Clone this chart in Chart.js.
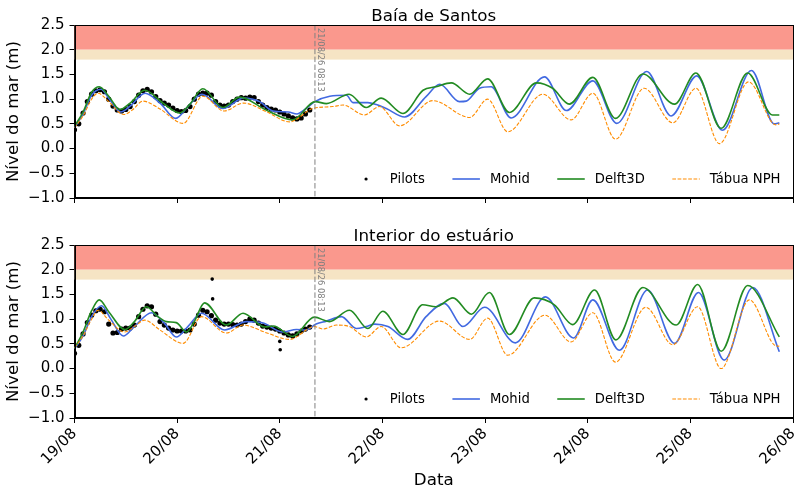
<!DOCTYPE html>
<html><head><meta charset="utf-8">
<script src="https://cdn.jsdelivr.net/npm/chart.js@4.4.0/dist/chart.umd.min.js"></script>
<style>
html,body{margin:0;padding:0;background:#fff;}
#wrap{position:relative;width:800px;height:498px;overflow:hidden;background:#fff;}
canvas{position:absolute;left:0;}
</style></head><body>
<div id="wrap">
<canvas id="c1" width="800" height="210" style="top:0px"></canvas>
<canvas id="c2" width="800" height="278" style="top:220px"></canvas>
</div>
<script>
// ---------- DATA ----------
const xTickLabels = ['19/08','20/08','21/08','22/08','23/08','24/08','25/08','26/08'];
const panelTitles = ['Baía de Santos', 'Interior do estuário'];
const seriesNames = ['Pilots', 'Mohid', 'Delft3D', 'Tábua NPH'];
const cutoffHour = 56.22;            // 21/08 08:13
const cutoffLabel = '21/08/26 08:13';
const alertBand = [2.0, 2.5];
const warnBand = [1.8, 2.0];

// Baía de Santos (hours since 19/08 00:00, sea level in m)
const santosPilotHours = [0,1,2,3,4,5,6,7,8,9,10,11,12,13,14,15,16,17,18,19,20,21,22,23,24,25,26,27,28,29,30,31,32,33,34,35,36,37,38,39,40,41,42,43,44,45,46,47,48,49,50,51,52,53,54,55];
const santosPilotLevel = [0.38,0.50,0.72,0.95,1.10,1.17,1.19,1.15,1.00,0.86,0.78,0.76,0.79,0.85,0.95,1.08,1.17,1.20,1.15,1.05,0.97,0.92,0.88,0.82,0.77,0.75,0.77,0.85,1.00,1.10,1.12,1.12,1.08,0.95,0.88,0.86,0.88,0.95,1.00,1.03,1.02,1.04,1.03,0.95,0.88,0.83,0.80,0.78,0.74,0.70,0.66,0.62,0.60,0.62,0.70,0.78];

const santosMohidHours = [0,2,4,6.2,8,10.8,13,16.5,20,23.7,26.5,29.8,34.7,39.5,43.3,46.4,50,52,54,56.2,59.7,63.6,65.1,68.6,70.6,72.9,77.2,82.2,85.4,90,91.6,94.7,97.4,102.1,109.9,115,121.2,126.8,133.8,139.5,145.5,151.5,158.3,163.6,164.8];
const santosMohidLevel = [0.42,0.70,1.08,1.20,1.02,0.74,0.86,1.12,0.92,0.61,0.85,1.10,0.81,1.02,0.95,0.76,0.74,0.70,0.80,0.95,1.06,1.08,0.93,0.93,0.89,0.81,0.64,1.05,1.30,0.95,0.96,1.22,1.25,0.62,1.45,0.77,1.37,0.51,1.56,0.66,1.47,0.37,1.58,0.50,0.52];

const santosDelftHours = [0,2,4,5.8,8,10.6,13,16.4,20.7,24.6,27,30,34.7,38.6,44.8,51,56.3,58.9,64.2,68.2,71.7,76.8,81.5,84.5,88.1,92.4,96.6,101.7,108,111.8,115.7,121.2,126.5,132.9,140.3,145.3,151.2,157.4,163.2,164.8];
const santosDelftLevel = [0.45,0.74,1.14,1.25,1.06,0.79,0.92,1.18,0.92,0.72,0.90,1.21,0.83,1.04,0.78,0.58,0.95,0.91,1.10,0.83,1.02,0.71,1.18,1.25,1.33,1.10,1.41,0.73,1.33,1.22,0.90,1.44,0.61,1.51,0.90,1.53,0.41,1.53,0.68,0.68];

const santosNphHours = [0,2,4,5.5,8,11.5,13.5,16,20,25.4,30,35,39.5,45,50.3,55.7,60.4,62.8,67.8,71.3,76,83.8,92.4,96.6,101.3,109.5,116.1,121.2,126.5,133.2,139.9,145.3,150.8,157.6,164,164.8];
const santosNphLevel = [0.42,0.66,1.00,1.12,0.95,0.69,0.78,0.96,0.80,0.51,1.06,0.76,0.92,0.74,0.54,0.81,0.85,0.88,0.68,0.85,0.46,0.97,0.63,1.00,0.34,1.10,0.58,1.12,0.19,1.22,0.52,1.22,0.10,1.35,0.48,0.50];

// Interior do estuário
const estuaryPilotHours = [0,1,2,3,4,5,6,7,8,9,10,11,12,13,14,15,16,17,18,19,20,21,22,23,24,25,26,27,28,29,30,31,32,33,34,35,36,37,38,39,40,41,42,43,44,45,46,47,48,49,50,51,52,53,54,55];
const estuaryPilotLevel = [0.31,0.47,0.70,0.93,1.08,1.17,1.20,1.15,0.90,0.72,0.73,0.80,0.82,0.82,0.88,1.05,1.20,1.27,1.25,1.10,0.95,0.88,0.82,0.78,0.76,0.76,0.76,0.78,0.90,1.08,1.18,1.15,1.07,0.98,0.92,0.90,0.90,0.89,0.88,0.90,0.95,1.00,0.98,0.92,0.86,0.84,0.82,0.80,0.76,0.72,0.68,0.66,0.70,0.76,0.80,0.84];
const estuaryOutlierHours = [32.2, 32.3, 48.0, 48.1];
const estuaryOutlierLevel = [1.81, 1.41, 0.55, 0.38];

const estuaryMohidHours = [0,2,4,6.3,8.5,11.4,14,18,21,23.8,26.5,29.7,35.1,40.2,44.1,48.7,51.9,54,56.5,58.9,62.4,65.9,68.2,70.2,73.3,77.9,82.2,86.5,90.8,95.9,103.1,110.1,116.7,121.2,127.4,134,140.3,145.9,151.9,158.6,164.8];
const estuaryMohidLevel = [0.40,0.66,1.05,1.27,1.00,0.66,0.85,1.13,0.92,0.64,0.85,1.12,0.78,0.95,0.92,0.74,0.79,0.78,0.90,0.96,1.05,0.81,0.85,0.90,0.85,0.59,1.05,1.32,0.85,1.24,0.52,1.45,0.62,1.39,0.37,1.59,0.51,1.54,0.17,1.64,0.34];

const estuaryDelftHours = [0,2,4,5.8,8,11.8,14,16.8,19.5,21.5,23.8,26.2,28,30.4,35.5,39.4,44.5,46.5,51,56.1,59.6,64.3,68.6,72.1,76.8,81.4,84.5,88.5,92.8,97,101.7,107.5,112.2,116.5,121.6,126.6,132.9,140.7,145.7,151.2,157.4,164.8];
const estuaryDelftLevel = [0.41,0.74,1.17,1.39,1.15,0.79,0.95,1.25,1.05,0.95,0.93,0.74,0.95,1.33,0.88,1.12,0.84,0.86,0.65,1.04,0.95,1.18,0.81,1.16,0.69,1.29,1.25,1.43,1.10,1.54,0.69,1.43,1.29,0.89,1.59,0.58,1.64,0.88,1.70,0.35,1.68,0.64];

const estuaryNphHours = [0,2,4,5.5,8,11.7,14,16.4,20,25.4,29.7,35.5,39.4,45,50.3,56.1,58.1,61.2,64.3,68.2,71.7,76.4,85.3,92.4,96.6,101.3,110,116.1,121.2,126.5,133.6,139.9,145.7,151.2,157.8,163.6,164.8];
const estuaryNphLevel = [0.42,0.66,1.00,1.18,0.98,0.74,0.85,0.98,0.78,0.51,1.05,0.72,0.88,0.72,0.59,0.85,0.80,0.88,0.85,0.64,0.85,0.42,0.96,0.59,1.02,0.27,1.08,0.54,1.13,0.13,1.24,0.48,1.25,0.00,1.39,0.48,0.45];

// ---------- STYLE / BUILD ----------
const FONT = "'DejaVu Sans', sans-serif";
const seriesColors = ['#000000', '#4169e1', '#228b22', '#ff8c00'];
const zip = (xs, ys) => xs.map((x, i) => ({x: x, y: ys[i]}));

function makeDatasets(p, outliers) {
  const sets = [
    {label: seriesNames[0], data: zip(p[0][0], p[0][1]), showLine: false, pointRadius: 2.6, pointHoverRadius: 0,
     pointBackgroundColor: seriesColors[0], pointBorderWidth: 0, borderColor: seriesColors[0], order: 4},
    {label: seriesNames[1], data: zip(p[1][0], p[1][1]), borderColor: seriesColors[1], borderWidth: 1.6,
     pointRadius: 0, cubicInterpolationMode: 'monotone', fill: false, order: 3},
    {label: seriesNames[2], data: zip(p[2][0], p[2][1]), borderColor: seriesColors[2], borderWidth: 1.6,
     pointRadius: 0, cubicInterpolationMode: 'monotone', fill: false, order: 2},
    {label: seriesNames[3], data: zip(p[3][0], p[3][1]), borderColor: seriesColors[3], borderWidth: 1.1,
     borderDash: [3.7, 1.6], pointRadius: 0, cubicInterpolationMode: 'monotone', fill: false, order: 1}
  ];
  if (outliers) {
    sets.push({label: seriesNames[0], legendSkip: true, data: zip(outliers[0], outliers[1]), showLine: false,
      pointRadius: 1.8, pointHoverRadius: 0, pointBackgroundColor: seriesColors[0], pointBorderWidth: 0,
      borderColor: seriesColors[0], order: 5});
  }
  return sets;
}

const decorPlugin = {
  id: 'decor',
  beforeDatasetsDraw(chart) {
    const ctx = chart.ctx, a = chart.chartArea, y = chart.scales.y;
    ctx.save();
    ctx.beginPath(); ctx.rect(a.left, a.top, a.right - a.left, a.bottom - a.top); ctx.clip();
    ctx.fillStyle = 'rgb(250,152,141)';
    ctx.fillRect(a.left, y.getPixelForValue(alertBand[1]), a.right - a.left, y.getPixelForValue(alertBand[0]) - y.getPixelForValue(alertBand[1]));
    ctx.fillStyle = 'rgb(246,228,196)';
    ctx.fillRect(a.left, y.getPixelForValue(warnBand[1]), a.right - a.left, y.getPixelForValue(warnBand[0]) - y.getPixelForValue(warnBand[1]));
    ctx.restore();
  },
  afterDatasetsDraw(chart, args, opts) {
    const ctx = chart.ctx, a = chart.chartArea, xs = chart.scales.x;
    ctx.save();
    // cutoff line
    const cx = xs.getPixelForValue(cutoffHour);
    ctx.strokeStyle = '#808080'; ctx.lineWidth = 1; ctx.setLineDash([5.5, 2.4]);
    ctx.beginPath(); ctx.moveTo(cx, a.top); ctx.lineTo(cx, a.bottom); ctx.stroke();
    ctx.setLineDash([]);
    ctx.save();
    ctx.translate(cx + 1, a.top + 3);
    ctx.rotate(Math.PI / 2);
    ctx.fillStyle = '#808080'; ctx.font = '8.3px ' + FONT;
    ctx.textAlign = 'left'; ctx.textBaseline = 'bottom';
    ctx.fillText(cutoffLabel, 0, -0.5);
    ctx.restore();
    // frame
    ctx.strokeStyle = '#000'; ctx.lineWidth = 1;
    ctx.strokeRect(Math.round(a.left) + 0.5, Math.round(a.top) + 0.5, Math.round(a.right - a.left) - 1, Math.round(a.bottom - a.top) - 1);
    // title
    ctx.fillStyle = '#000'; ctx.font = '16.7px ' + FONT; ctx.textAlign = 'center'; ctx.textBaseline = 'alphabetic';
    ctx.fillText(opts.title, (a.left + a.right) / 2, a.top - 4.5);
    // legend
    ctx.font = '13.2px ' + FONT;
    const ds = chart.data.datasets.filter(d => !d.legendSkip);
    const handle = 27.5, pad = 10, gap = 27.5;
    let xr = a.right - 12.5;
    const yc = a.bottom - 19;
    const pos = [];
    for (let i = ds.length - 1; i >= 0; i--) {
      const w = ctx.measureText(ds[i].label).width;
      const tx = xr - w, hx = tx - pad - handle;
      pos[i] = {tx: tx, hx: hx};
      xr = hx - gap;
    }
    ds.forEach((d, i) => {
      const p = pos[i];
      if (d.showLine === false) {
        ctx.fillStyle = d.pointBackgroundColor;
        ctx.beginPath(); ctx.arc(p.hx + handle / 2, yc, 1.6, 0, Math.PI * 2); ctx.fill();
      } else {
        ctx.strokeStyle = d.borderColor; ctx.lineWidth = d.borderWidth;
        ctx.setLineDash(d.borderDash || []);
        ctx.beginPath(); ctx.moveTo(p.hx, yc); ctx.lineTo(p.hx + handle, yc); ctx.stroke();
        ctx.setLineDash([]);
      }
      ctx.fillStyle = '#000'; ctx.textAlign = 'left'; ctx.textBaseline = 'middle';
      ctx.fillText(d.label, p.tx, yc + 0.5);
    });
    ctx.restore();
  }
};

function yTick(v) {
  const s = Number(v).toFixed(1);
  return s.replace('-', '\u2212');
}

function makeChart(canvasId, panel, outliers, showXLabels, title) {
  return new Chart(document.getElementById(canvasId), {
    type: 'line',
    data: {datasets: makeDatasets(panel, outliers)},
    options: {
      responsive: false, animation: false, events: [],
      layout: {padding: {top: 25, right: 7, left: 0, bottom: 0}},
      plugins: {legend: {display: false}, tooltip: {enabled: false}, decor: {title: title}},
      scales: {
        x: {
          type: 'linear', min: 0, max: 168,
          ticks: {display: showXLabels, stepSize: 24, autoSkip: false, maxRotation: 45, minRotation: 45,
                  color: '#000', font: {family: FONT, size: 15}, padding: 2,
                  callback: v => xTickLabels[Math.round(v / 24)]},
          grid: {drawOnChartArea: false, drawTicks: true, tickLength: 5, color: '#000', lineWidth: 1},
          border: {display: true, color: '#000', width: 1},
          title: {display: showXLabels, text: 'Data', color: '#000', font: {family: FONT, size: 16.7}, padding: {top: 2, bottom: 7}},
          afterFit: s => { s.height = showXLabels ? 80 : 12; s.paddingLeft = 0; s.paddingRight = 0; }
        },
        y: {
          min: -1, max: 2.5,
          ticks: {stepSize: 0.5, color: '#000', font: {family: FONT, size: 15}, padding: 5, callback: v => yTick(v)},
          grid: {drawOnChartArea: false, drawTicks: true, tickLength: 5, color: '#000', lineWidth: 1},
          border: {display: true, color: '#000', width: 1},
          title: {display: true, text: 'Nível do mar (m)', color: '#000', font: {family: FONT, size: 16.7}, padding: {top: 4, bottom: 0}},
          afterFit: s => { s.width = 74.5; s.paddingTop = 0; s.paddingBottom = 0; }
        }
      }
    },
    plugins: [decorPlugin]
  });
}

makeChart('c1', [[santosPilotHours, santosPilotLevel], [santosMohidHours, santosMohidLevel], [santosDelftHours, santosDelftLevel], [santosNphHours, santosNphLevel]], null, false, panelTitles[0]);
makeChart('c2', [[estuaryPilotHours, estuaryPilotLevel], [estuaryMohidHours, estuaryMohidLevel], [estuaryDelftHours, estuaryDelftLevel], [estuaryNphHours, estuaryNphLevel]], [estuaryOutlierHours, estuaryOutlierLevel], true, panelTitles[1]);
</script>
</body></html>
